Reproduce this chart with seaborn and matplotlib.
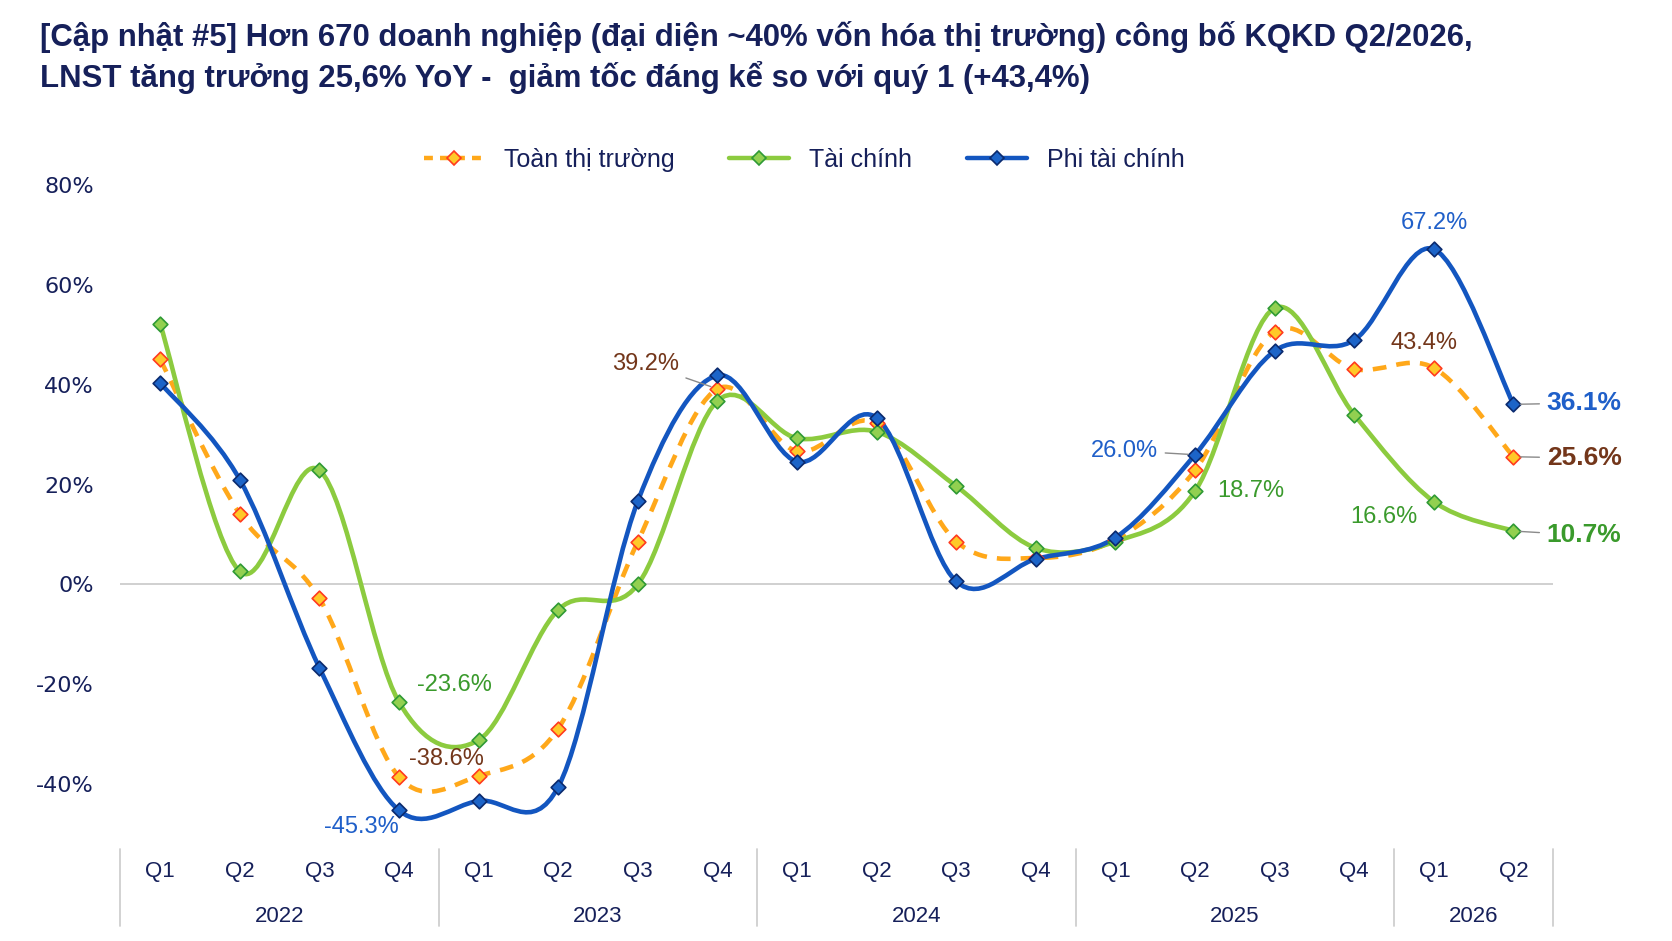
import numpy as np
import pandas as pd
import seaborn as sns
import matplotlib.pyplot as plt
from matplotlib.path import Path
from matplotlib.patches import PathPatch
from matplotlib.lines import Line2D
import matplotlib.transforms as mtransforms

# quarters 2022 Q1 .. 2026 Q2
quarters = ["Q1", "Q2", "Q3", "Q4"] * 4 + ["Q1", "Q2"]
years = ["2022", "2023", "2024", "2025", "2026"]
year_sizes = [4, 4, 4, 4, 2]

# YoY profit growth, %
toan_thi_truong = [45.1, 14.1, -2.8, -38.6, -38.4, -28.9, 8.6, 39.2,
                   26.7, 32.3, 8.6, 5.3, 9.0, 22.9, 50.7, 43.2, 43.4, 25.6]
tai_chinh = [52.2, 2.6, 22.9, -23.6, -31.2, -5.1, 0.0, 36.8,
             29.3, 30.6, 19.7, 7.3, 8.6, 18.7, 55.4, 34.0, 16.6, 10.7]
phi_tai_chinh = [40.4, 21.0, -16.7, -45.3, -43.4, -40.6, 16.7, 41.9,
                 24.6, 33.4, 0.6, 5.1, 9.4, 26.0, 46.8, 49.0, 67.2, 36.1]

series_names = ["Toàn thị trường", "Tài chính", "Phi tài chính"]

NAVY = "#16205a"
line_colors = {"Toàn thị trường": "#ffa81a", "Tài chính": "#8ccb3f", "Phi tài chính": "#1356c0"}
marker_face = {"Toàn thị trường": "#ffc928", "Tài chính": "#92d050", "Phi tài chính": "#1c64c8"}
marker_edge = {"Toàn thị trường": "#ff3b1f", "Tài chính": "#2f9a35", "Phi tài chính": "#0b2a6e"}
label_colors = {"Toàn thị trường": "#73361a", "Tài chính": "#3a9a2c", "Phi tài chính": "#1f5fc9"}

x = np.arange(len(quarters))
df = pd.DataFrame({
    "x": np.tile(x, 3),
    "value": toan_thi_truong + tai_chinh + phi_tai_chinh,
    "series": np.repeat(series_names, len(x)),
})

sns.set_theme(style="white")
plt.rcParams["font.family"] = ["Liberation Sans", "DejaVu Sans"]

fig = plt.figure(figsize=(16.72, 9.41), dpi=100)
ax = fig.add_axes([0.072, 0.098, 0.857, 0.705])


def smooth_path(xs, ys):
    # Excel-style smoothed line: cubic bezier segments through each point
    pts = np.column_stack([xs, ys]).astype(float)
    n = len(pts)
    verts = [pts[0]]
    codes = [Path.MOVETO]
    for i in range(n - 1):
        p0 = pts[i - 1] if i > 0 else pts[i]
        p1, p2 = pts[i], pts[i + 1]
        p3 = pts[i + 2] if i + 2 < n else pts[i + 1]
        c1 = p1 + (p2 - p0) / 6.0
        c2 = p2 - (p3 - p1) / 6.0
        verts += [c1, c2, p2]
        codes += [Path.CURVE4] * 3
    return Path(verts, codes)


ax.axhline(0, color="#c8c8c8", lw=1.2, zorder=1)

for name, vals in zip(series_names, [toan_thi_truong, tai_chinh, phi_tai_chinh]):
    ls = (0, (3, 2.2)) if name == "Toàn thị trường" else "-"
    patch = PathPatch(smooth_path(x, vals), fill=False, edgecolor=line_colors[name],
                      lw=3.3, linestyle=ls, capstyle="butt", zorder=2)
    ax.add_patch(patch)

for name in series_names:
    sub = df[df["series"] == name]
    sns.scatterplot(data=sub, x="x", y="value", marker="D", s=56,
                    color=marker_face[name], edgecolor=marker_edge[name],
                    linewidth=1.2, ax=ax, zorder=3, legend=False)

ax.set_xlim(-0.5, len(x) - 0.5)
ax.set_ylim(-53, 80)
ax.set_yticks(np.arange(-40, 81, 20))
ax.set_yticklabels([f"{v}%" for v in range(-40, 81, 20)], fontsize=16,
                   color=NAVY, family="DejaVu Sans")
ax.set_xticks(x)
ax.set_xticklabels(quarters, fontsize=16, color=NAVY)
ax.tick_params(axis="x", length=0, pad=9)
ax.tick_params(axis="y", length=0, pad=19)
for sp in ax.spines.values():
    sp.set_visible(False)
ax.set_xlabel("")
ax.set_ylabel("")

# year group labels and separators below the axis
trans = mtransforms.blended_transform_factory(ax.transData, ax.transAxes)
edges = np.concatenate([[0], np.cumsum(year_sizes)]) - 0.5
for xe in edges:
    ax.plot([xe, xe], [0, -0.117], transform=trans, color="#cfcfcf", lw=1.3, clip_on=False)
for yr, a, b in zip(years, edges[:-1], edges[1:]):
    ax.text((a + b) / 2, -0.102, yr, transform=trans, ha="center", va="center",
            fontsize=16, color=NAVY)

# data labels: (series, index, offset in points, ha, bold, leader line)
labels = [
    ("Toàn thị trường", 7, (-52, 18), "center", False, True),
    ("Toàn thị trường", 3, (34, 13), "center", False, False),
    ("Toàn thị trường", 16, (-7, 18), "center", False, False),
    ("Toàn thị trường", 17, (24, -1), "left", True, True),
    ("Tài chính", 3, (40, 12), "center", False, False),
    ("Tài chính", 13, (40, 0), "center", False, False),
    ("Tài chính", 16, (-36, -11), "center", False, False),
    ("Tài chính", 17, (24, -3), "left", True, True),
    ("Phi tài chính", 3, (-27, -12), "center", False, False),
    ("Phi tài chính", 13, (-51, 3), "center", False, True),
    ("Phi tài chính", 16, (0, 19), "center", False, False),
    ("Phi tài chính", 17, (24, 1), "left", True, True),
]
values = {"Toàn thị trường": toan_thi_truong, "Tài chính": tai_chinh,
          "Phi tài chính": phi_tai_chinh}
for name, i, off, ha, bold, leader in labels:
    v = values[name][i]
    arrow = dict(arrowstyle="-", color="#8a8a8a", lw=1, shrinkA=3, shrinkB=5) if leader else None
    ax.annotate(f"{v:.1f}%", xy=(x[i], v), xytext=off, textcoords="offset points",
                ha=ha, va="center", fontsize=19 if bold else 17,
                fontweight="bold" if bold else "normal",
                color=label_colors[name], arrowprops=arrow, zorder=4)

# legend
handles = [
    Line2D([], [], color=line_colors[n], lw=3.2,
           linestyle=(0, (2, 1.6)) if n == "Toàn thị trường" else "-",
           marker="D", markersize=7, markerfacecolor=marker_face[n],
           markeredgecolor=marker_edge[n], markeredgewidth=1.2)
    for n in series_names
]
fig.legend(handles, series_names, loc="center", bbox_to_anchor=(0.481, 0.83),
           ncol=3, frameon=False, fontsize=18, handlelength=2.4,
           columnspacing=2.2, labelcolor=NAVY)

fig.text(0.024, 0.961, "[Cập nhật #5] Hơn 670 doanh nghiệp (đại diện ~40% vốn hóa thị trường) công bố KQKD Q2/2026,",
         fontsize=22.4, fontweight="bold", color=NAVY, va="center")
fig.text(0.024, 0.918, "LNST tăng trưởng 25,6% YoY -  giảm tốc đáng kể so với quý 1 (+43,4%)",
         fontsize=22.4, fontweight="bold", color=NAVY, va="center")

fig.savefig("out.png", dpi=100, facecolor="white")
